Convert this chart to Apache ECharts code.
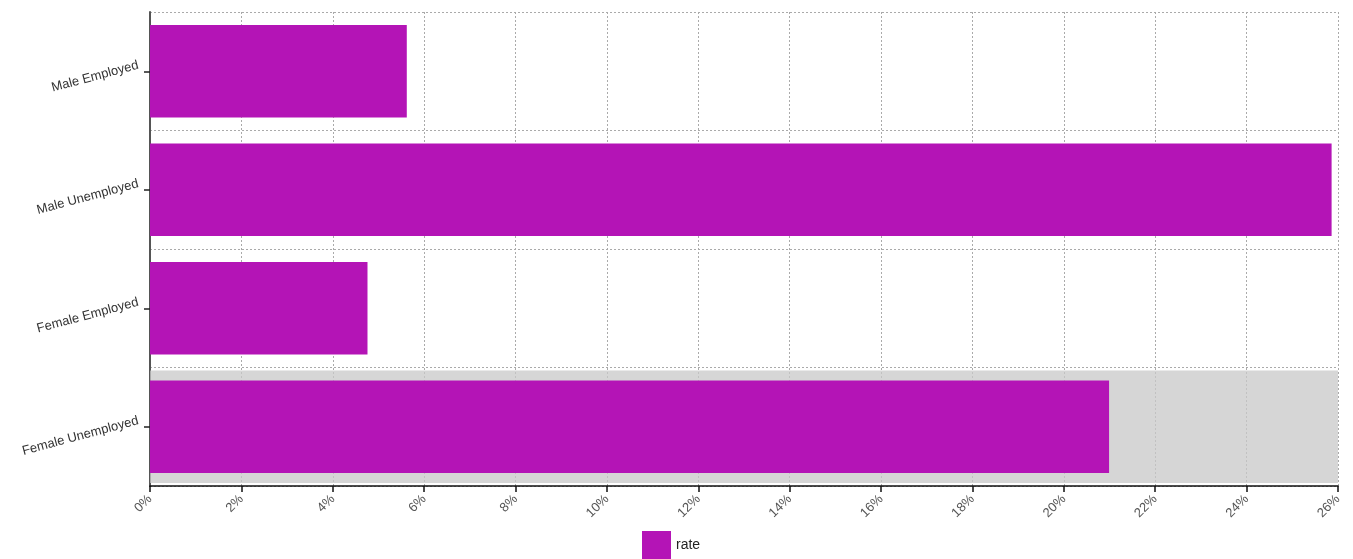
<!DOCTYPE html>
<html>
<head>
<meta charset="utf-8">
<script src="https://cdn.jsdelivr.net/npm/echarts@6/dist/echarts.min.js"></script>
<style>html,body{margin:0;padding:0;background:#fff;}#chart{width:1353px;height:559px;}</style>
</head>
<body>
<div id="chart"></div>
<script>
const categories = ['Male Employed', 'Male Unemployed', 'Female Employed', 'Female Unemployed'];
const rateValues = [5.62, 25.86, 4.76, 20.99];
const highlightedCategory = 'Female Unemployed';
const xTickMax = 26;
const xTickStep = 2;

const chart = echarts.init(document.getElementById('chart'));
const shadowData = categories.map(c => c === highlightedCategory ? xTickMax : null);

chart.setOption({
  animation: false,
  backgroundColor: '#fff',
  grid: { left: 150, right: 15, top: 12, bottom: 73, containLabel: false },
  legend: {
    data: [{ name: 'rate', icon: 'rect' }],
    bottom: -5,
    left: 637,
    itemWidth: 29,
    itemHeight: 28,
    textStyle: { color: '#222', fontSize: 14, fontFamily: 'Arial, Liberation Sans, sans-serif' }
  },
  xAxis: {
    type: 'value',
    min: 0,
    max: xTickMax,
    interval: xTickStep,
    axisLine: { show: true, lineStyle: { color: '#111', width: 1.5 } },
    axisTick: { show: true, length: 6, lineStyle: { color: '#111', width: 1.5 } },
    axisLabel: {
      formatter: v => v + '%',
      rotate: 45,
      color: '#555',
      fontSize: 13,
      margin: 11,
      fontFamily: 'Arial, Liberation Sans, sans-serif'
    },
    splitLine: { show: true, lineStyle: { color: '#aaa', type: [2, 2], width: 1 } }
  },
  yAxis: [{
    type: 'category',
    data: categories,
    inverse: true,
    axisLine: { show: true, lineStyle: { color: '#555', width: 2 } },
    axisTick: { show: true, alignWithLabel: true, length: 6, lineStyle: { color: '#222', width: 1.5 } },
    axisLabel: {
      rotate: 15,
      color: '#333',
      fontSize: 13,
      margin: 10,
      verticalAlign: 'bottom',
      fontFamily: 'Arial, Liberation Sans, sans-serif'
    },
    splitLine: { show: true, lineStyle: { color: '#aaa', type: [2, 2], width: 1 } }
  }, {
    type: 'category',
    data: categories,
    inverse: true,
    show: false,
    position: 'left'
  }],
  series: [{
    name: 'shadow',
    type: 'bar',
    yAxisIndex: 1,
    data: shadowData,
    barWidth: '95%',
    silent: true,
    itemStyle: { color: 'rgba(200,200,200,0.75)' },
    z: 1
  }, {
    name: 'rate',
    type: 'bar',
    yAxisIndex: 0,
    data: rateValues,
    barWidth: '78%',
    itemStyle: { color: '#b414b6' },
    z: 2
  }]
});
</script>
</body>
</html>
